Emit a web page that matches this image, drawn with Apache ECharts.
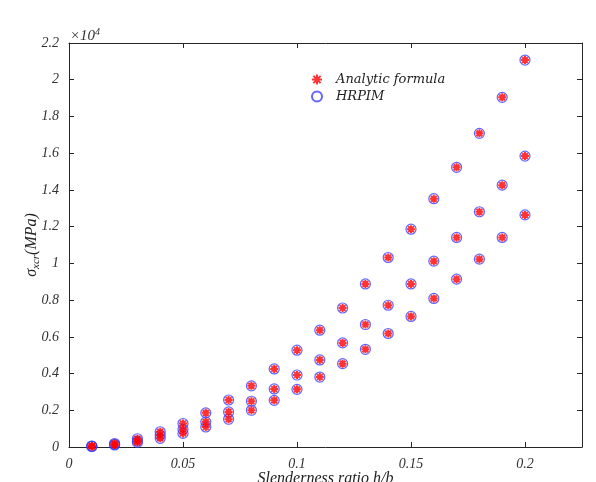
<!DOCTYPE html>
<html><head><meta charset="utf-8">
<script src="https://cdn.jsdelivr.net/npm/echarts@6/dist/echarts.min.js"></script>
<style>html,body{margin:0;padding:0;background:#fff}#c{width:596px;height:482px}</style>
</head><body><div id="c"></div>
<script>
// Slenderness ratio h/b
var ratios = [0.01,0.02,0.03,0.04,0.05,0.06,0.07,0.08,0.09,0.10,0.11,0.12,0.13,0.14,0.15,0.16,0.17,0.18,0.19,0.20];
// sigma_xcr (x 10^4 MPa), three cases
var analyticHigh = [0.005,0.019,0.045,0.083,0.128,0.186,0.256,0.333,0.425,0.527,0.636,0.757,0.888,1.032,1.186,1.352,1.523,1.708,1.904,2.107];
var analyticMid  = [0.004,0.014,0.032,0.064,0.096,0.137,0.191,0.249,0.316,0.392,0.474,0.567,0.667,0.772,0.888,1.012,1.141,1.281,1.426,1.584];
var analyticLow  = [0.003,0.011,0.025,0.047,0.074,0.109,0.151,0.200,0.254,0.314,0.381,0.454,0.532,0.618,0.711,0.809,0.914,1.023,1.141,1.264];
var hrpimHigh = [0.005,0.019,0.045,0.083,0.128,0.186,0.256,0.333,0.425,0.527,0.636,0.757,0.888,1.032,1.186,1.352,1.523,1.708,1.904,2.107];
var hrpimMid  = [0.004,0.014,0.032,0.064,0.096,0.137,0.191,0.249,0.316,0.392,0.474,0.567,0.667,0.772,0.888,1.012,1.141,1.281,1.426,1.584];
var hrpimLow  = [0.003,0.011,0.025,0.047,0.074,0.109,0.151,0.200,0.254,0.314,0.381,0.454,0.532,0.618,0.711,0.809,0.914,1.023,1.141,1.264];
var seriesNames = ['Analytic formula','HRPIM'];

function pairs(ys){ var out=[]; for(var i=0;i<ratios.length;i++){ out.push([ratios[i], ys[i]]); } return out; }
var analyticData = pairs(analyticHigh).concat(pairs(analyticMid), pairs(analyticLow));
var hrpimData = pairs(hrpimHigh).concat(pairs(hrpimMid), pairs(hrpimLow));

var FONT = 'Liberation Serif';
var AX = '#262626';
var star = 'path://M5 0L5 10M0 5L10 5M1.4 1.4L8.6 8.6M8.6 1.4L1.4 8.6';

var chart = echarts.init(document.getElementById('c'));
var axisCommon = {
  axisLine:{show:true,onZero:false,lineStyle:{color:AX,width:1}},
  axisTick:{show:true,inside:true,length:5,lineStyle:{color:AX}},
  splitLine:{show:false}
};
chart.setOption({
  animation:false,
  backgroundColor:'#fff',
  grid:{left:69,right:14,top:43,bottom:35,outerBoundsMode:'none',containLabel:false},
  legend:{
    orient:'vertical', left:306, top:68, itemGap:4, itemWidth:10, itemHeight:10,
    data:[{name:seriesNames[0], icon:star},{name:seriesNames[1], icon:'circle'}],
    textStyle:{fontFamily:'DejaVu Serif', fontStyle:'italic', fontSize:13, color:'#222', padding:[0,0,0,9]}
  },
  xAxis:[
    Object.assign({type:'value', min:0, max:0.225, interval:0.05, position:'bottom',
      name:'Slenderness ratio h/b', nameLocation:'middle', nameGap:24, nameMoveOverlap:false,
      nameTextStyle:{fontFamily:FONT, fontStyle:'italic', fontSize:16, color:'#222'},
      axisLabel:{fontFamily:FONT, fontStyle:'italic', fontSize:14, color:'#333', margin:10,
        formatter:function(v){ return v>0.21 ? '' : String(+v.toFixed(3)); }}}, axisCommon),
    Object.assign({type:'value', min:0, max:0.225, interval:0.05, position:'top',
      axisLabel:{show:false}}, axisCommon)
  ],
  yAxis:[
    Object.assign({type:'value', min:0, max:2.2, interval:0.2, position:'left',
      name:'{m|σ}{s|xcr}{m|(MPa)}', nameLocation:'middle', nameGap:27, nameRotate:90, nameMoveOverlap:false,
      nameTextStyle:{rich:{
        m:{fontFamily:FONT, fontStyle:'italic', fontSize:16, color:'#222', lineHeight:20},
        s:{fontFamily:FONT, fontStyle:'italic', fontSize:11, color:'#222', lineHeight:20, verticalAlign:'bottom', padding:[8,0,0,0]}
      }},
      axisLabel:{fontFamily:FONT, fontStyle:'italic', fontSize:14, color:'#333', margin:10,
        formatter:function(v){ return String(+v.toFixed(2)); }}}, axisCommon),
    Object.assign({type:'value', min:0, max:2.2, interval:0.2, position:'right',
      axisLabel:{show:false}}, axisCommon)
  ],
  graphic:[{
    type:'text', left:70, top:27,
    style:{text:'{a|×10}{b|4}', rich:{
      a:{fontFamily:FONT, fontStyle:'italic', fontSize:15, fill:'#333'},
      b:{fontFamily:FONT, fontStyle:'italic', fontSize:10, fill:'#333', verticalAlign:'top', padding:[0,0,8,0]}
    }}
  }],
  series:[
    {name:seriesNames[1], type:'scatter', data:hrpimData, symbol:'circle', symbolSize:10, z:2,
      itemStyle:{color:'rgba(0,0,0,0)', borderColor:'#3c3cff', borderWidth:1.2}},
    {name:seriesNames[0], type:'scatter', data:analyticData, symbol:star, symbolSize:8, z:3,
      itemStyle:{color:'rgba(0,0,0,0)', borderColor:'#ff0000', borderWidth:2}}
  ]
});
</script></body></html>
